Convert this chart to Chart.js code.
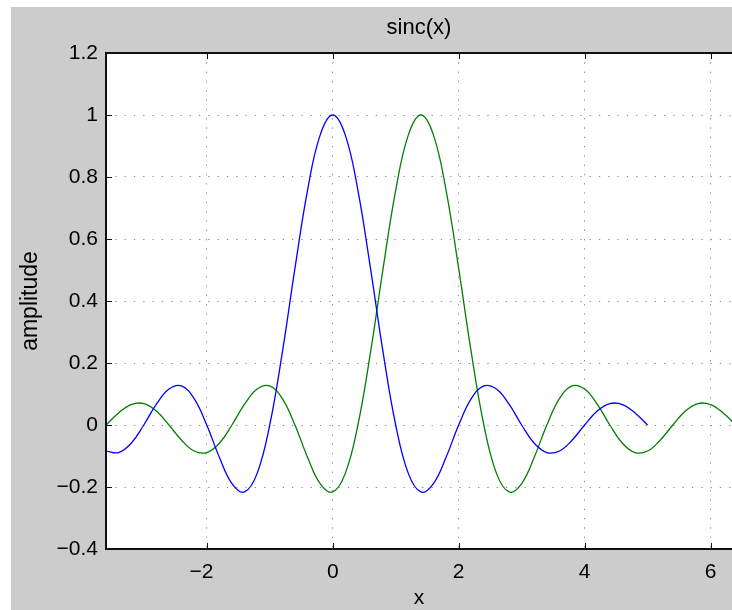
<!DOCTYPE html>
<html>
<head>
<meta charset="utf-8">
<script src="https://cdn.jsdelivr.net/npm/chart.js@4/dist/chart.umd.min.js"></script>
<style>
  html, body { margin: 0; padding: 0; background: #fff; width: 732px; height: 610px; overflow: hidden; }
  #wrap { position: absolute; left: 11px; top: 7px; width: 721px; height: 603px; }
</style>
</head>
<body>
<div id="wrap"><canvas id="chart" width="721" height="603"></canvas></div>
<script>
// sample positions (step 0.2)
const BLUE_X = [-3.6, -3.4, -3.2, -3.0, -2.8, -2.6, -2.4, -2.2, -2.0, -1.8, -1.6, -1.4, -1.2, -1.0, -0.8, -0.6, -0.4, -0.2,
  0, 0.2, 0.4, 0.6, 0.8, 1.0, 1.2, 1.4, 1.6, 1.8, 2.0, 2.2, 2.4, 2.6, 2.8, 3.0, 3.2, 3.4, 3.6, 3.8, 4.0, 4.2, 4.4, 4.6, 4.8, 5.0];
const BLUE_Y = [-0.084, -0.089, -0.059, 0, 0.067, 0.116, 0.126, 0.085, 0, -0.104, -0.189, -0.216, -0.156, 0, 0.234, 0.505, 0.757, 0.935,
  1, 0.935, 0.757, 0.505, 0.234, 0, -0.156, -0.216, -0.189, -0.104, 0, 0.085, 0.126, 0.116, 0.067, 0, -0.059, -0.089, -0.084, -0.049, 0, 0.045, 0.069, 0.066, 0.039, 0];

const GREEN_X = [-3.6, -3.4, -3.2, -3.0, -2.8, -2.6, -2.4, -2.2, -2.0, -1.8, -1.6, -1.4, -1.2, -1.0, -0.8, -0.6, -0.4, -0.2,
  0, 0.2, 0.4, 0.6, 0.8, 1.0, 1.2, 1.4, 1.6, 1.8, 2.0, 2.2, 2.4, 2.6, 2.8, 3.0, 3.2, 3.4, 3.6, 3.8, 4.0, 4.2, 4.4, 4.6, 4.8,
  5.0, 5.2, 5.4, 5.6, 5.8, 6.0, 6.2, 6.4];
const GREEN_Y = [0, 0.039, 0.066, 0.069, 0.045, 0, -0.049, -0.084, -0.089, -0.059, 0, 0.067, 0.116, 0.126, 0.085, 0, -0.104, -0.189,
  -0.216, -0.156, 0, 0.234, 0.505, 0.757, 0.935, 1, 0.935, 0.757, 0.505, 0.234, 0, -0.156, -0.216, -0.189, -0.104, 0, 0.085, 0.126,
  0.116, 0.067, 0, -0.059, -0.089, -0.084, -0.049, 0, 0.045, 0.069, 0.066, 0.039, 0];

const X_TICKS = [-2, 0, 2, 4, 6];
const Y_TICKS = [-0.4, -0.2, 0, 0.2, 0.4, 0.6, 0.8, 1, 1.2];

const FONT = 'Liberation Sans, Arial, Helvetica, sans-serif';

function fmt(v) {
  const n = +Number(v).toFixed(1);
  return n < 0 ? '\u2212' + Math.abs(n) : String(n);
}
// negative x labels sit a little left of their tick in the original
const fmtX = v => (v < 0 ? fmt(v) + '\u2002' : fmt(v));

const toPts = (xs, ys) => xs.map((x, i) => ({ x, y: ys[i] }));

// gray figure, white axes, box + inward ticks, title
const figure = {
  id: 'figure',
  beforeDraw(chart) {
    const { ctx, chartArea: a } = chart;
    ctx.save();
    ctx.fillStyle = '#cccccc';
    ctx.fillRect(0, 0, chart.width, chart.height);
    ctx.fillStyle = '#ffffff';
    ctx.fillRect(a.left, a.top, a.right - a.left, a.bottom - a.top);
    ctx.restore();
  },
  afterDraw(chart) {
    const { ctx, chartArea: a, scales } = chart;
    ctx.save();
    ctx.strokeStyle = '#111';
    ctx.lineWidth = 1;
    ctx.beginPath();
    X_TICKS.forEach(v => {
      const px = Math.round(scales.x.getPixelForValue(v)) + 0.5;
      ctx.moveTo(px, a.bottom); ctx.lineTo(px, a.bottom - 6);
      ctx.moveTo(px, a.top); ctx.lineTo(px, a.top + 6);
    });
    Y_TICKS.forEach(v => {
      const py = Math.round(scales.y.getPixelForValue(v)) + 0.5;
      ctx.moveTo(a.left, py); ctx.lineTo(a.left + 6, py);
    });
    ctx.stroke();

    ctx.lineWidth = 2;
    ctx.beginPath();
    ctx.moveTo(a.right + 2, a.top);
    ctx.lineTo(a.left, a.top);
    ctx.lineTo(a.left, a.bottom);
    ctx.lineTo(a.right + 2, a.bottom);
    ctx.stroke();

    ctx.fillStyle = '#000';
    ctx.font = '22px ' + FONT;
    ctx.textAlign = 'center';
    ctx.textBaseline = 'middle';
    ctx.fillText('sinc(x)', (a.left + a.right) / 2, 20.8);
    ctx.restore();
  }
};

new Chart(document.getElementById('chart'), {
  type: 'line',
  data: {
    datasets: [
      { data: toPts(BLUE_X, BLUE_Y), borderColor: '#0000ff', borderWidth: 1.3, pointRadius: 0, tension: 0.4, fill: false },
      { data: toPts(GREEN_X, GREEN_Y), borderColor: '#008000', borderWidth: 1.3, pointRadius: 0, tension: 0.4, fill: false },
    ],
  },
  options: {
    responsive: false,
    animation: false,
    events: [],
    layout: { padding: { top: 46, right: 0, left: 0, bottom: 0 } },
    plugins: { legend: { display: false }, tooltip: { enabled: false }, title: { display: false } },
    scales: {
      x: {
        type: 'linear',
        min: -3.6,
        max: 6.34,
        afterFit: s => { s.height = 61; },
        afterBuildTicks: s => { s.ticks = X_TICKS.map(value => ({ value })); },
        ticks: { color: '#000', font: { family: FONT, size: 21 }, padding: 11, autoSkip: false, maxRotation: 0, callback: fmtX },
        grid: { color: '#8a8a8a', lineWidth: 1, drawTicks: false },
        border: { display: false, dash: [1.3, 8] },
        title: { display: true, text: 'x', color: '#000', font: { family: FONT, size: 21, lineHeight: 1 }, padding: { top: 0, bottom: 1 } },
      },
      y: {
        type: 'linear',
        min: -0.4,
        max: 1.2,
        afterFit: s => { s.width = 95; },
        afterBuildTicks: s => { s.ticks = Y_TICKS.map(value => ({ value })); },
        ticks: { color: '#000', font: { family: FONT, size: 21 }, padding: 8, callback: fmt },
        grid: { color: '#8a8a8a', lineWidth: 1, drawTicks: false },
        border: { display: false, dash: [1.3, 8] },
        title: { display: true, text: 'amplitude', color: '#000', font: { family: FONT, size: 23, lineHeight: 1 }, padding: { top: 8, bottom: 0 } },
      },
    },
  },
  plugins: [figure],
});
</script>
</body>
</html>
